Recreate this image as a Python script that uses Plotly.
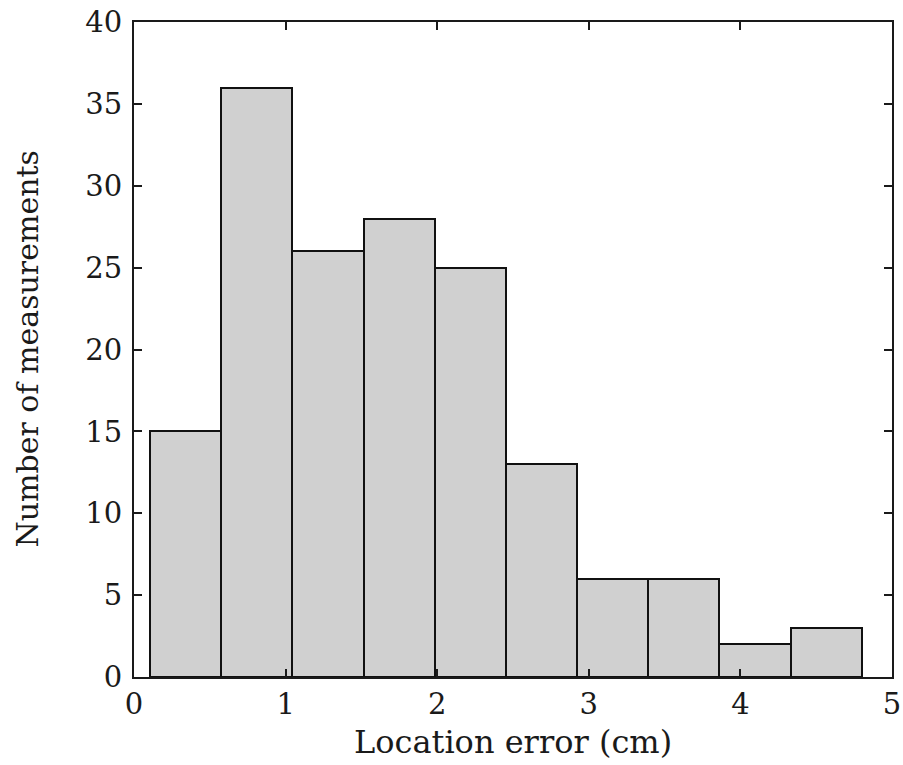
import plotly.graph_objects as go

bin_start = 0.106
bin_width = 0.4694
counts = [15, 36, 26, 28, 25, 13, 6, 6, 2, 3]
centers = [bin_start + bin_width * (i + 0.5) for i in range(len(counts))]
x_ticks = [0, 1, 2, 3, 4, 5]
y_ticks = [0, 5, 10, 15, 20, 25, 30, 35, 40]
x_title = "Location error (cm)"
y_title = "Number of measurements"

FONT = "DejaVu Serif"
INK = "#1a1a1a"

fig = go.Figure(go.Bar(
    x=centers, y=counts, width=[bin_width] * len(counts),
    marker=dict(color="#d0d0d0", line=dict(color="#111111", width=2)),
))

axis_common = dict(
    showline=True, linecolor=INK, linewidth=2, mirror="ticks",
    ticks="inside", ticklen=8, tickwidth=2, tickcolor=INK,
    showgrid=False, zeroline=False, automargin=False,
    tickfont=dict(family=FONT, size=29, color=INK),
)

fig.update_xaxes(range=[0, 5], tickvals=x_ticks, ticktext=[str(v) for v in x_ticks],
                 ticklabelstandoff=0, **axis_common)
fig.update_yaxes(range=[0, 40], tickvals=y_ticks, ticktext=[str(v) for v in y_ticks],
                 ticklabelstandoff=4, **axis_common)

fig.add_annotation(text=x_title, xref="paper", yref="paper", x=0.5, y=0,
                   yshift=-65, yanchor="middle", showarrow=False,
                   font=dict(family=FONT, size=32, color=INK))
fig.add_annotation(text=y_title, xref="paper", yref="paper", x=0, y=0.5,
                   xshift=-107, xanchor="center", textangle=-90, showarrow=False,
                   font=dict(family=FONT, size=30, color=INK))

fig.update_layout(
    width=903, height=765,
    margin=dict(l=134, r=11, t=22, b=88),
    paper_bgcolor="white", plot_bgcolor="white",
    bargap=0, showlegend=False,
)

fig.write_html("out.html")
